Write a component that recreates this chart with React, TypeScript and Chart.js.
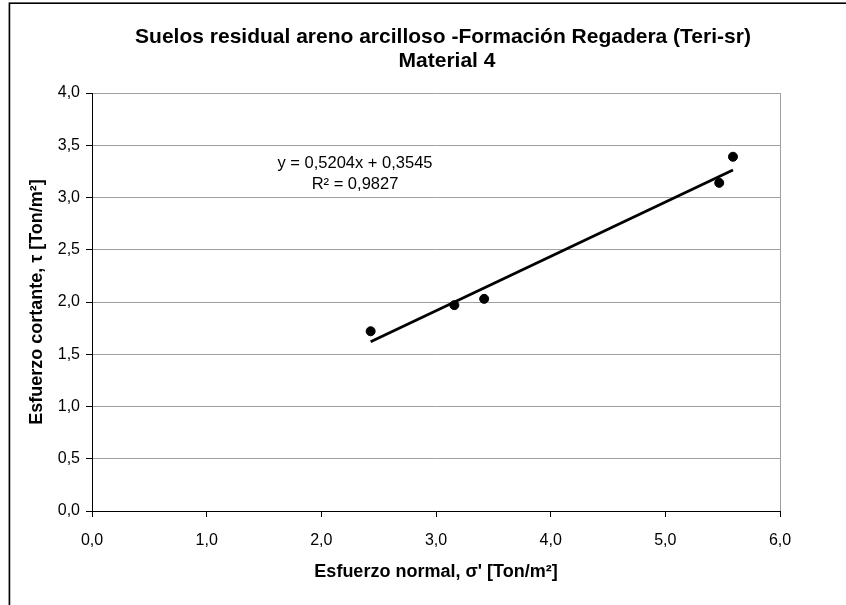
import React, { useEffect, useRef } from "react";
import { Chart, registerables } from "chart.js";

Chart.register(...registerables);

// Ensayo de corte: esfuerzo normal efectivo vs. esfuerzo cortante (Ton/m²)
const normalStress = [2.43, 3.16, 3.42, 5.47, 5.59];
const shearStress = [1.72, 1.97, 2.03, 3.14, 3.39];

// Línea de tendencia lineal
const trendSlope = 0.5204;
const trendIntercept = 0.3545;
const rSquared = 0.9827;

const titleLines = [
  "Suelos residual areno arcilloso -Formación Regadera (Teri-sr)",
  "Material 4",
];
const xAxisTitle = "Esfuerzo normal, σ' [Ton/m²]";
const yAxisTitle = "Esfuerzo cortante, τ [Ton/m²]";

const xRange = [0, 6];
const yRange = [0, 4];
const xStep = 1;
const yStep = 0.5;

const FONT = "'Liberation Sans', Arial, sans-serif";
const GRID = "#a0a0a0";

const comma = (v: number, d: number) => v.toFixed(d).replace(".", ",");

const decorations = {
  id: "decorations",
  beforeDraw(chart: any) {
    const { ctx, width, height } = chart;
    ctx.save();
    ctx.fillStyle = "#ffffff";
    ctx.fillRect(0, 0, width, height);
    // marco del gráfico
    ctx.strokeStyle = "#c8c8c8";
    ctx.lineWidth = 1;
    ctx.beginPath();
    ctx.moveTo(8.5, height);
    ctx.lineTo(8.5, 2.5);
    ctx.lineTo(width, 2.5);
    ctx.stroke();
    ctx.strokeStyle = "#000000";
    ctx.lineWidth = 1.5;
    ctx.beginPath();
    ctx.moveTo(9.5, height);
    ctx.lineTo(9.5, 3.25);
    ctx.lineTo(width, 3.25);
    ctx.stroke();
    ctx.restore();
  },
  afterDraw(chart: any) {
    const { ctx, chartArea } = chart;
    ctx.save();
    // borde derecho del área de trazado
    ctx.strokeStyle = GRID;
    ctx.lineWidth = 1;
    ctx.beginPath();
    ctx.moveTo(Math.round(chartArea.right) + 0.5, chartArea.top);
    ctx.lineTo(Math.round(chartArea.right) + 0.5, chartArea.bottom);
    ctx.stroke();

    // título
    ctx.fillStyle = "#000000";
    ctx.textAlign = "center";
    ctx.textBaseline = "middle";
    ctx.font = `bold 21px ${FONT}`;
    ctx.fillText(titleLines[0], 443, 37);
    ctx.fillText(titleLines[1], 447, 61);

    // ecuación de la línea de tendencia
    ctx.font = `16.5px ${FONT}`;
    const eqX = chartArea.left + 263;
    const eqY = chartArea.top + 70;
    ctx.fillText(`y = ${comma(trendSlope, 4)}x + ${comma(trendIntercept, 4)}`, eqX, eqY);
    ctx.fillText(`R² = ${comma(rSquared, 4)}`, eqX, eqY + 21);
    ctx.restore();
  },
};

export default function App() {
  const canvasRef = useRef<HTMLCanvasElement>(null);

  useEffect(() => {
    const canvas = canvasRef.current;
    if (!canvas) return;

    const points = normalStress.map((x, i) => ({ x, y: shearStress[i] }));
    const xMin = Math.min(...normalStress);
    const xMax = Math.max(...normalStress);
    const trend = [
      { x: xMin, y: trendSlope * xMin + trendIntercept },
      { x: xMax, y: trendSlope * xMax + trendIntercept },
    ];

    const chart = new Chart(canvas, {
      type: "scatter",
      data: {
        datasets: [
          {
            type: "line",
            label: "Tendencia",
            data: trend,
            borderColor: "#000000",
            borderWidth: 2.8,
            pointRadius: 0,
            fill: false,
            order: 2,
          },
          {
            label: "Ensayos",
            data: points,
            backgroundColor: "#000000",
            borderColor: "#000000",
            pointRadius: 4.5,
            pointHoverRadius: 4.5,
            order: 1,
          },
        ],
      },
      options: {
        responsive: false,
        animation: false,
        events: [],
        layout: { padding: { left: 0, right: 66, top: 93, bottom: 0 } },
        plugins: {
          legend: { display: false },
          title: { display: false },
          tooltip: { enabled: false },
        },
        scales: {
          x: {
            type: "linear",
            min: xRange[0],
            max: xRange[1],
            afterFit: (s: any) => {
              s.height = 94;
            },
            ticks: {
              stepSize: xStep,
              padding: 14,
              color: "#000000",
              font: { family: FONT, size: 16 },
              callback: (v: any) => comma(Number(v), 1),
            },
            grid: {
              drawOnChartArea: false,
              drawTicks: true,
              tickLength: 6,
              tickColor: "#000000",
            },
            border: { color: "#000000", width: 1 },
            title: {
              display: true,
              text: xAxisTitle,
              color: "#000000",
              font: { family: FONT, size: 18, weight: "bold" },
              padding: { top: 0, bottom: 22 },
            },
          },
          y: {
            type: "linear",
            min: yRange[0],
            max: yRange[1],
            afterFit: (s: any) => {
              s.width = 92;
            },
            ticks: {
              stepSize: yStep,
              padding: 6,
              color: "#000000",
              font: { family: FONT, size: 16 },
              callback: (v: any) => comma(Number(v), 1),
            },
            grid: {
              color: GRID,
              lineWidth: 1,
              drawTicks: true,
              tickLength: 6,
              tickColor: "#000000",
            },
            border: { color: "#000000", width: 1 },
            title: {
              display: true,
              text: yAxisTitle,
              color: "#000000",
              font: { family: FONT, size: 18, weight: "bold" },
              padding: { top: 26, bottom: 0 },
            },
          },
        },
      },
      plugins: [decorations],
    });

    return () => chart.destroy();
  }, []);

  return (
    <div style={{ position: "fixed", left: 0, top: 0, width: 846, height: 605 }}>
      <canvas ref={canvasRef} width={846} height={605} style={{ display: "block" }} />
    </div>
  );
}
